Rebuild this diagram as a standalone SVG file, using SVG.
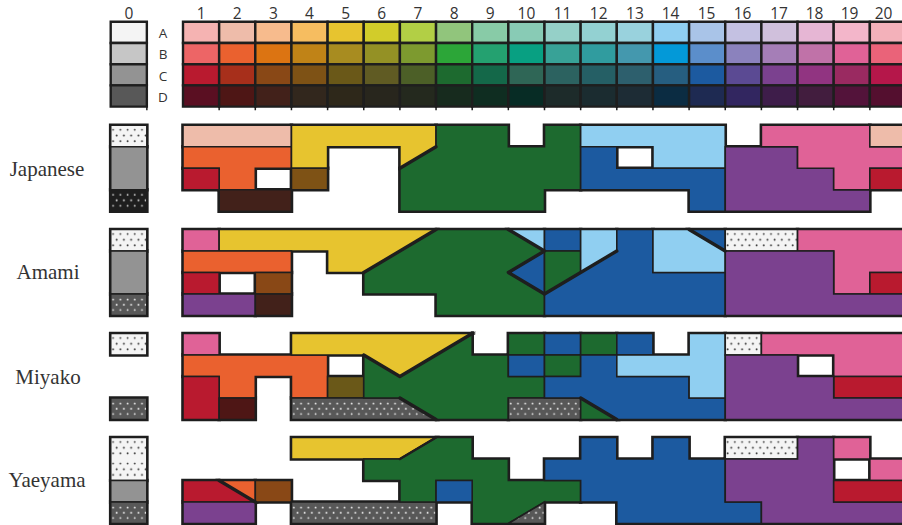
<svg xmlns="http://www.w3.org/2000/svg" width="902" height="525" viewBox="0 0 902 525">
<defs>
<style>
.lbl{font-family:"Open Sans","Liberation Sans",Arial,sans-serif;font-size:15.5px;fill:#333;text-anchor:middle}
.rowl{font-family:"Open Sans","Liberation Sans",Arial,sans-serif;font-size:13.5px;fill:#333;text-anchor:middle}
.lang{font-family:"Liberation Serif","Times New Roman",serif;font-size:21px;fill:#333;text-anchor:middle}
.m *{vector-effect:non-scaling-stroke}
.cells{stroke:#1e1e1e;stroke-width:2.4}
.tick{stroke:#1e1e1e;stroke-width:1.5;fill:none}
.reg{stroke:#1e1e1e;stroke-width:1.6;stroke-linejoin:miter}
.thk{fill:none;stroke:#1e1e1e;stroke-width:3.4;stroke-linecap:round;stroke-linejoin:round}
.sa{fill:#eebcaa}.or{fill:#ea612f}.rd{fill:#b91a2f}.db{fill:#42211a}.ye{fill:#e7c42f}
.bn{fill:#7e5215}.gr{fill:#1d6a2f}.lb{fill:#90cff1}.bl{fill:#1c5aa0}.pu{fill:#7b418f}
.pk{fill:#e06297}.b3{fill:#894816}.ol{fill:#6a5818}.d2{fill:#4e1615}.gy{fill:#939393}
.dw{fill:url(#dw)}.dd{fill:url(#dd)}.dk{fill:url(#dk)}
</style>
<pattern id="dw" patternUnits="userSpaceOnUse" width="7.23" height="21.5" patternTransform="scale(0.027663 0.046512)">
<rect width="7.23" height="21.5" fill="#f4f4f4"/>
<circle cx="2.4" cy="4.5" r="0.95" fill="#333"/><circle cx="6" cy="10.2" r="0.95" fill="#333"/><circle cx="2.4" cy="15.9" r="0.95" fill="#333"/>
</pattern>
<pattern id="dd" patternUnits="userSpaceOnUse" width="7.23" height="21.5" patternTransform="scale(0.027663 0.046512)">
<rect width="7.23" height="21.5" fill="#585858"/>
<circle cx="2.4" cy="5.5" r="0.95" fill="#eee"/><circle cx="6" cy="10.8" r="0.95" fill="#eee"/><circle cx="2.4" cy="16" r="0.95" fill="#eee"/>
</pattern>
<pattern id="dk" patternUnits="userSpaceOnUse" width="7.23" height="21.5" patternTransform="scale(0.027663 0.046512)">
<rect width="7.23" height="21.5" fill="#1e1e1e"/>
<circle cx="2.4" cy="5" r="0.95" fill="#ddd"/><circle cx="6" cy="10.5" r="0.95" fill="#ddd"/><circle cx="2.4" cy="16" r="0.95" fill="#ddd"/>
</pattern>
<filter id="ol" x="-0.05" y="-0.1" width="1.1" height="1.2" color-interpolation-filters="sRGB">
<feMorphology in="SourceAlpha" operator="dilate" radius="1.4" result="d"/>
<feFlood flood-color="#1e1e1e" result="f"/>
<feComposite in="f" in2="d" operator="in" result="o"/>
<feMerge><feMergeNode in="o"/><feMergeNode in="SourceGraphic"/></feMerge>
</filter>
</defs>
<rect width="902" height="525" fill="#ffffff"/>

<g id="chart-labels">
<text class="lbl" x="128.9" y="18.5">0</text>
<text class="lbl" x="201.1" y="18.5">1</text>
<text class="lbl" x="237.2" y="18.5">2</text>
<text class="lbl" x="273.4" y="18.5">3</text>
<text class="lbl" x="309.5" y="18.5">4</text>
<text class="lbl" x="345.7" y="18.5">5</text>
<text class="lbl" x="381.8" y="18.5">6</text>
<text class="lbl" x="418" y="18.5">7</text>
<text class="lbl" x="454.1" y="18.5">8</text>
<text class="lbl" x="490.3" y="18.5">9</text>
<text class="lbl" x="526.4" y="18.5">10</text>
<text class="lbl" x="562.6" y="18.5">11</text>
<text class="lbl" x="598.7" y="18.5">12</text>
<text class="lbl" x="634.9" y="18.5">13</text>
<text class="lbl" x="670.5" y="18.5">14</text>
<text class="lbl" x="706.5" y="18.5">15</text>
<text class="lbl" x="742.5" y="18.5">16</text>
<text class="lbl" x="779" y="18.5">17</text>
<text class="lbl" x="814.5" y="18.5">18</text>
<text class="lbl" x="849.5" y="18.5">19</text>
<text class="lbl" x="883.5" y="18.5">20</text>
<text class="rowl" x="163" y="38">A</text>
<text class="rowl" x="163" y="59">B</text>
<text class="rowl" x="163" y="80.5">C</text>
<text class="rowl" x="163" y="101.5">D</text>
</g>

<g id="colour-chart" class="m" transform="translate(183,21.8) scale(36.15,21.2)">
<path class="tick" d="M-1 4V4.17M1 4V4.17M2 4V4.17M3 4V4.17M4 4V4.17M5 4V4.17M6 4V4.17M7 4V4.17M8 4V4.17M9 4V4.17M10 4V4.17M11 4V4.17M12 4V4.17M13 4V4.17M14 4V4.17M15 4V4.17M16 4V4.17M17 4V4.17M18 4V4.17M19 4V4.17"/>
<g class="cells">
<rect x="-2" y="0" width="1" height="1" fill="#f4f4f4"/>
<rect x="-2" y="1" width="1" height="1" fill="#c6c6c6"/>
<rect x="-2" y="2" width="1" height="1" fill="#939393"/>
<rect x="-2" y="3" width="1" height="1" fill="#585858"/>
<rect x="0" y="0" width="1" height="1" fill="#f5b3b2"/>
<rect x="1" y="0" width="1" height="1" fill="#eebcaa"/>
<rect x="2" y="0" width="1" height="1" fill="#f7bb8d"/>
<rect x="3" y="0" width="1" height="1" fill="#f6bd60"/>
<rect x="4" y="0" width="1" height="1" fill="#e7c42f"/>
<rect x="5" y="0" width="1" height="1" fill="#d2cc2a"/>
<rect x="6" y="0" width="1" height="1" fill="#b2cf45"/>
<rect x="7" y="0" width="1" height="1" fill="#91c57c"/>
<rect x="8" y="0" width="1" height="1" fill="#88cba7"/>
<rect x="9" y="0" width="1" height="1" fill="#88cbb5"/>
<rect x="10" y="0" width="1" height="1" fill="#95d0c8"/>
<rect x="11" y="0" width="1" height="1" fill="#93d1d2"/>
<rect x="12" y="0" width="1" height="1" fill="#99d2dd"/>
<rect x="13" y="0" width="1" height="1" fill="#90cff1"/>
<rect x="14" y="0" width="1" height="1" fill="#a9c4e8"/>
<rect x="15" y="0" width="1" height="1" fill="#c4c1e2"/>
<rect x="16" y="0" width="1" height="1" fill="#d0c0dc"/>
<rect x="17" y="0" width="1" height="1" fill="#e6b6d4"/>
<rect x="18" y="0" width="1" height="1" fill="#f3b6ca"/>
<rect x="19" y="0" width="1" height="1" fill="#f3b1ba"/>
<rect x="0" y="1" width="1" height="1" fill="#ed6566"/>
<rect x="1" y="1" width="1" height="1" fill="#ea612f"/>
<rect x="2" y="1" width="1" height="1" fill="#dc7412"/>
<rect x="3" y="1" width="1" height="1" fill="#c08317"/>
<rect x="4" y="1" width="1" height="1" fill="#a88c20"/>
<rect x="5" y="1" width="1" height="1" fill="#949125"/>
<rect x="6" y="1" width="1" height="1" fill="#7d9a2f"/>
<rect x="7" y="1" width="1" height="1" fill="#2ca638"/>
<rect x="8" y="1" width="1" height="1" fill="#24a170"/>
<rect x="9" y="1" width="1" height="1" fill="#08a082"/>
<rect x="10" y="1" width="1" height="1" fill="#38a297"/>
<rect x="11" y="1" width="1" height="1" fill="#309c9f"/>
<rect x="12" y="1" width="1" height="1" fill="#4498ae"/>
<rect x="13" y="1" width="1" height="1" fill="#0399d8"/>
<rect x="14" y="1" width="1" height="1" fill="#5b8ecb"/>
<rect x="15" y="1" width="1" height="1" fill="#8b82bd"/>
<rect x="16" y="1" width="1" height="1" fill="#a57eb7"/>
<rect x="17" y="1" width="1" height="1" fill="#c072a8"/>
<rect x="18" y="1" width="1" height="1" fill="#e06297"/>
<rect x="19" y="1" width="1" height="1" fill="#ea6379"/>
<rect x="0" y="2" width="1" height="1" fill="#b91a2f"/>
<rect x="1" y="2" width="1" height="1" fill="#a72f1b"/>
<rect x="2" y="2" width="1" height="1" fill="#894816"/>
<rect x="3" y="2" width="1" height="1" fill="#7e5215"/>
<rect x="4" y="2" width="1" height="1" fill="#6a5818"/>
<rect x="5" y="2" width="1" height="1" fill="#605b23"/>
<rect x="6" y="2" width="1" height="1" fill="#4c5f27"/>
<rect x="7" y="2" width="1" height="1" fill="#1d6a2f"/>
<rect x="8" y="2" width="1" height="1" fill="#146849"/>
<rect x="9" y="2" width="1" height="1" fill="#2f6656"/>
<rect x="10" y="2" width="1" height="1" fill="#2c6260"/>
<rect x="11" y="2" width="1" height="1" fill="#255f65"/>
<rect x="12" y="2" width="1" height="1" fill="#2d5f6d"/>
<rect x="13" y="2" width="1" height="1" fill="#265e80"/>
<rect x="14" y="2" width="1" height="1" fill="#1c5aa0"/>
<rect x="15" y="2" width="1" height="1" fill="#5b4a93"/>
<rect x="16" y="2" width="1" height="1" fill="#7b418f"/>
<rect x="17" y="2" width="1" height="1" fill="#913481"/>
<rect x="18" y="2" width="1" height="1" fill="#9a2a61"/>
<rect x="19" y="2" width="1" height="1" fill="#b5174a"/>
<rect x="0" y="3" width="1" height="1" fill="#5a0f22"/>
<rect x="1" y="3" width="1" height="1" fill="#4e1615"/>
<rect x="2" y="3" width="1" height="1" fill="#42211a"/>
<rect x="3" y="3" width="1" height="1" fill="#32271d"/>
<rect x="4" y="3" width="1" height="1" fill="#2e281a"/>
<rect x="5" y="3" width="1" height="1" fill="#28261d"/>
<rect x="6" y="3" width="1" height="1" fill="#24291e"/>
<rect x="7" y="3" width="1" height="1" fill="#172b1e"/>
<rect x="8" y="3" width="1" height="1" fill="#0f2d21"/>
<rect x="9" y="3" width="1" height="1" fill="#072c25"/>
<rect x="10" y="3" width="1" height="1" fill="#1d2b2a"/>
<rect x="11" y="3" width="1" height="1" fill="#1b2c30"/>
<rect x="12" y="3" width="1" height="1" fill="#1d2c35"/>
<rect x="13" y="3" width="1" height="1" fill="#0b2c42"/>
<rect x="14" y="3" width="1" height="1" fill="#1e2a52"/>
<rect x="15" y="3" width="1" height="1" fill="#322660"/>
<rect x="16" y="3" width="1" height="1" fill="#3e1d4a"/>
<rect x="17" y="3" width="1" height="1" fill="#421d3e"/>
<rect x="18" y="3" width="1" height="1" fill="#53133a"/>
<rect x="19" y="3" width="1" height="1" fill="#540f2f"/>
</g>
</g>

<g id="japanese">
<text class="lang" x="47" y="175.5">Japanese</text>
<g filter="url(#ol)">
<g class="m reg" transform="translate(183,125.3) scale(36.15,21.5)">
<rect class="dw" x="-2" y="0" width="1" height="1"/>
<rect class="gy" x="-2" y="1" width="1" height="2"/>
<rect class="dk" x="-2" y="3" width="1" height="1"/>
<rect class="sa" x="0" y="0" width="3" height="1"/>
<polygon class="or" points="0,1 3,1 3,2 2,2 2,3 1,3 1,2 0,2"/>
<rect class="rd" x="0" y="2" width="1" height="1"/>
<rect class="db" x="1" y="3" width="2" height="1"/>
<polygon class="ye" points="3,0 7,0 7,1 6,2 6,1 4,1 4,2 3,2"/>
<rect class="bn" x="3" y="2" width="1" height="1"/>
<polygon class="gr" points="7,0 9,0 9,1 10,1 10,0 11,0 11,3 10,3 10,4 6,4 6,2 7,1"/>
<polygon class="lb" points="11,0 15,0 15,2 13,2 13,1 11,1"/>
<polygon class="bl" points="11,1 12,1 12,2 15,2 15,4 14,4 14,3 11,3"/>
<polygon class="pu" points="15,1 17,1 17,2 18,2 18,3 19,3 19,4 15,4"/>
<polygon class="pk" points="16,0 19,0 19,1 20,1 20,2 19,2 19,3 18,3 18,2 17,2 17,1 16,1"/>
<rect class="sa" x="19" y="0" width="1" height="1"/>
<rect class="rd" x="19" y="2" width="1" height="1"/>
</g>
</g>
<g class="m" transform="translate(183,125.3) scale(36.15,21.5)">
<polyline class="thk" points="7,1 6,2"/>
</g>
</g>

<g id="amami">
<text class="lang" x="48" y="279.3">Amami</text>
<g filter="url(#ol)">
<g class="m reg" transform="translate(183,229.5) scale(36.15,21.5)">
<rect class="dw" x="-2" y="0" width="1" height="1"/>
<rect class="gy" x="-2" y="1" width="1" height="2"/>
<rect class="dd" x="-2" y="3" width="1" height="1"/>
<rect class="pk" x="0" y="0" width="1" height="1"/>
<polygon class="ye" points="1,0 7,0 5,2 4,2 4,1 1,1"/>
<rect class="or" x="0" y="1" width="3" height="1"/>
<rect class="rd" x="0" y="2" width="1" height="1"/>
<rect class="b3" x="2" y="2" width="1" height="1"/>
<rect class="pu" x="0" y="3" width="2" height="1"/>
<rect class="db" x="2" y="3" width="1" height="1"/>
<polygon class="gr" points="7,0 9,0 10,1 9,2 10,3 10,4 7,4 7,3 5,3 5,2"/>
<polygon class="lb" points="9,0 10,0 10,1"/>
<polygon class="bl" points="10,1 9,2 10,3"/>
<rect class="bl" x="10" y="0" width="1" height="1"/>
<polygon class="gr" points="10,1 11,1 11,2 10,3"/>
<polygon class="lb" points="11,0 12,0 12,1 11,2"/>
<polygon class="bl" points="12,0 13,0 13,2 15,2 15,4 10,4 10,3 12,1"/>
<polygon class="lb" points="13,0 14,0 15,1 15,2 13,2"/>
<polygon class="bl" points="14,0 15,0 15,1"/>
<rect class="dw" x="15" y="0" width="2" height="1"/>
<polygon class="pk" points="17,0 20,0 20,2 19,2 19,3 18,3 18,1 17,1"/>
<rect class="rd" x="19" y="2" width="1" height="1"/>
<polygon class="pu" points="15,1 18,1 18,3 20,3 20,4 15,4"/>
</g>
</g>
<g class="m" transform="translate(183,229.5) scale(36.15,21.5)">
<polyline class="thk" points="5,2 7,0"/>
<polyline class="thk" points="9,0 10,1 9,2 10,3 12,1"/>
<polyline class="thk" points="14,0 15,1"/>
</g>
</g>

<g id="miyako">
<text class="lang" x="48" y="383.5">Miyako</text>
<g filter="url(#ol)">
<g class="m reg" transform="translate(183,333.5) scale(36.15,21.5)">
<rect class="dw" x="-2" y="0" width="1" height="1"/>
<rect class="dd" x="-2" y="3" width="1" height="1"/>
<rect class="pk" x="0" y="0" width="1" height="1"/>
<polygon class="or" points="0,1 4,1 4,3 3,3 3,2 2,2 2,3 1,3 1,2 0,2"/>
<rect class="rd" x="0" y="2" width="1" height="2"/>
<rect class="d2" x="1" y="3" width="1" height="1"/>
<polygon class="ye" points="3,0 8,0 6,2 5,1 3,1"/>
<rect class="ol" x="4" y="2" width="1" height="1"/>
<polygon class="dd" points="3,3 6,3 7,4 3,4"/>
<polygon class="gr" points="5,1 6,2 8,0 8,1 9,1 9,2 10,2 10,3 9,3 9,4 7,4 6,3 5,3"/>
<rect class="gr" x="9" y="0" width="1" height="1"/>
<rect class="bl" x="10" y="0" width="1" height="1"/>
<rect class="gr" x="11" y="0" width="1" height="1"/>
<rect class="bl" x="12" y="0" width="1" height="1"/>
<rect class="bl" x="9" y="1" width="1" height="1"/>
<rect class="gr" x="10" y="1" width="1" height="1"/>
<rect class="dd" x="9" y="3" width="2" height="1"/>
<polygon class="gr" points="11,3 11,4 12,4"/>
<polygon class="bl" points="11,1 12,1 12,2 14,2 14,3 15,3 15,4 12,4 11,3 10,3 10,2 11,2"/>
<polygon class="lb" points="14,0 15,0 15,3 14,3 14,2 12,2 12,1 14,1"/>
<rect class="dw" x="15" y="0" width="1" height="1"/>
<polygon class="pk" points="16,0 20,0 20,2 18,2 18,1 16,1"/>
<rect class="rd" x="18" y="2" width="2" height="1"/>
<polygon class="pu" points="15,1 17,1 17,2 18,2 18,3 20,3 20,4 15,4"/>
</g>
</g>
<g class="m" transform="translate(183,333.5) scale(36.15,21.5)">
<polyline class="thk" points="5,1 6,2 8,0"/>
<polyline class="thk" points="6,3 7,4"/>
<polyline class="thk" points="11,3 12,4"/>
</g>
</g>

<g id="yaeyama">
<text class="lang" x="47" y="487.3">Yaeyama</text>
<g filter="url(#ol)">
<g class="m reg" transform="translate(183,437.5) scale(36.15,21.5)">
<rect class="dw" x="-2" y="0" width="1" height="2"/>
<rect class="gy" x="-2" y="2" width="1" height="1"/>
<rect class="dd" x="-2" y="3" width="1" height="1"/>
<polygon class="rd" points="0,2 1,2 2,3 0,3"/>
<polygon class="or" points="1,2 2,2 2,3"/>
<rect class="b3" x="2" y="2" width="1" height="1"/>
<rect class="pu" x="0" y="3" width="2" height="1"/>
<polygon class="ye" points="3,0 7,0 6,1 3,1"/>
<rect class="dd" x="3" y="3" width="4" height="1"/>
<polygon class="gr" points="5,1 6,1 7,0 8,0 8,1 9,1 9,2 11,2 11,3 10,3 9,4 8,4 8,2 7,2 7,3 6,3 6,2 5,2"/>
<rect class="bl" x="7" y="2" width="1" height="1"/>
<polygon class="dd" points="10,3 10,4 9,4"/>
<polygon class="bl" points="10,1 11,1 11,0 12,0 12,1 13,1 13,0 14,0 14,1 15,1 15,3 16,3 16,4 12,4 12,3 11,3 11,2 10,2"/>
<rect class="dw" x="15" y="0" width="2" height="1"/>
<polygon class="pu" points="17,0 18,0 18,3 20,3 20,4 16,4 16,3 15,3 15,1 17,1"/>
<rect class="pk" x="18" y="0" width="1" height="1"/>
<rect class="pk" x="19" y="1" width="1" height="1"/>
<rect class="rd" x="18" y="2" width="2" height="1"/>
</g>
</g>
<g class="m" transform="translate(183,437.5) scale(36.15,21.5)">
<polyline class="thk" points="1,2 2,3"/>
<polyline class="thk" points="7,0 6,1" style="stroke-width:2.6"/>
</g>
</g>
</svg>
